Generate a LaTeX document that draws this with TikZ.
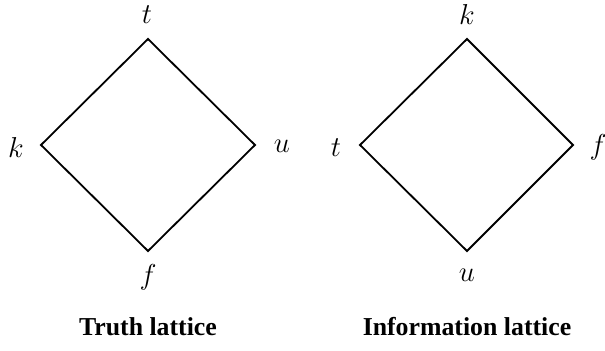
\documentclass[tikz,border=0pt]{standalone}
\usepackage{fontspec}
\newfontfamily\capfont{Liberation Serif}
\begin{document}
\begin{tikzpicture}[x=0.5pt,y=-0.5pt,
  lbl/.style={inner sep=0pt,font=\fontsize{13.5}{16}\selectfont},
  captext/.style={inner sep=0pt,font=\capfont\bfseries\fontsize{12.9}{15}\selectfont},
  latline/.style={line width=0.9pt,line join=miter}]
\useasboundingbox (0,0) rectangle (605,351);
% Truth lattice
\coordinate (Tt) at (148,39);
\coordinate (Tk) at (41,145);
\coordinate (Tu) at (255,145);
\coordinate (Tf) at (148,251);
\draw[latline] (Tt) -- (Tu) -- (Tf) -- (Tk) -- cycle;
\node[lbl] (lTt) at (147,15) {$t$};
\node[lbl] (lTk) at (16,148) {$k$};
\node[lbl] (lTu) at (282,146) {$u$};
\node[lbl] (lTf) at (148,277) {$f$};
\node[captext] (capT) at (148,327) {Truth lattice};
% Information lattice
\coordinate (It) at (360,145);
\coordinate (Ik) at (467,39);
\coordinate (Iu) at (467,251);
\coordinate (If) at (573,145);
\draw[latline] (Ik) -- (If) -- (Iu) -- (It) -- cycle;
\node[lbl] (lIk) at (467,15) {$k$};
\node[lbl] (lIt) at (336,148) {$t$};
\node[lbl] (lIf) at (598,147) {$f$};
\node[lbl] (lIu) at (467,275) {$u$};
\node[captext] (capI) at (467,327) {Information lattice};
\end{tikzpicture}
\end{document}
